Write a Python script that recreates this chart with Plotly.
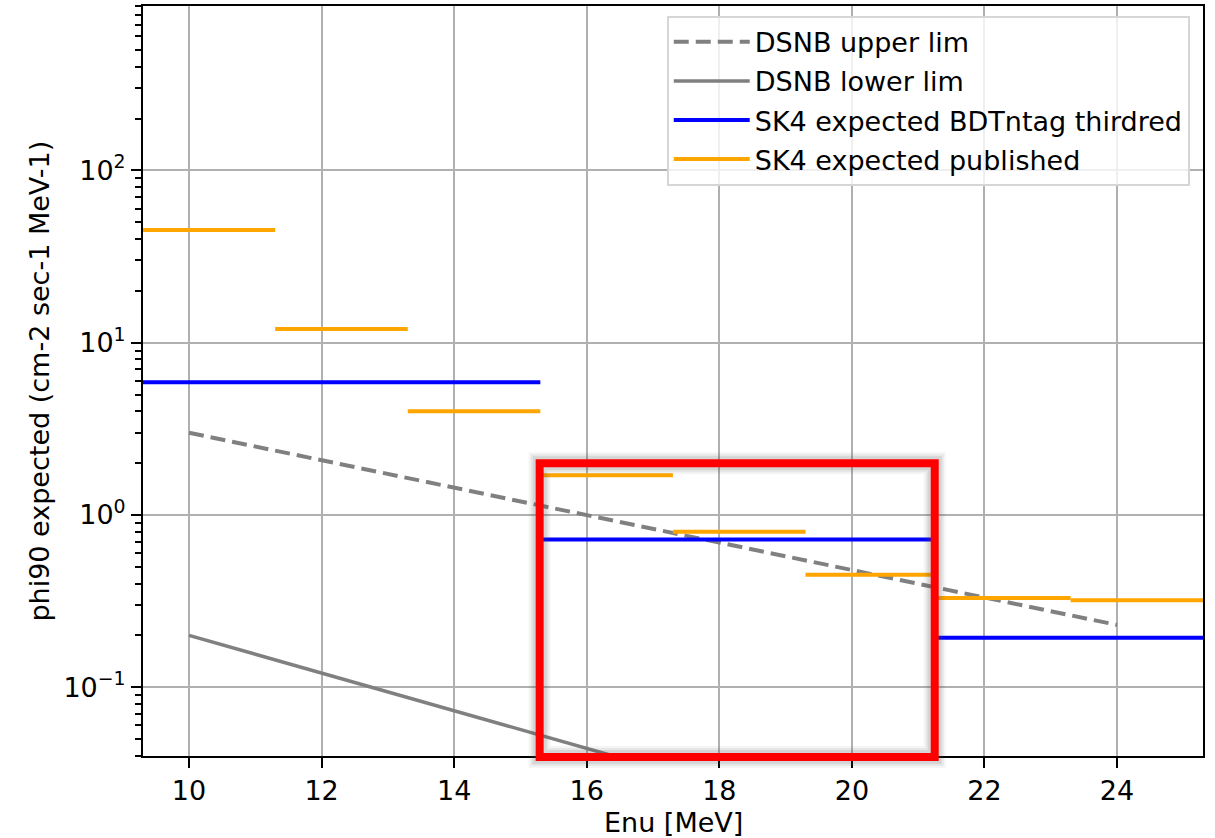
import plotly.graph_objects as go

# ---------------- data ----------------
pub_edges = [9.3, 11.3, 13.3, 15.3, 17.3, 19.3, 21.3, 23.3, 25.3]
pub_vals = [45.0, 12.0, 4.0, 1.7, 0.80, 0.45, 0.33, 0.32]

bdt_edges = [9.3, 15.3, 21.3, 25.3]
bdt_vals = [5.9, 0.72, 0.194]

upper_x = [10, 24]
upper_y = [3.0, 0.23]

lower_x = [10, 24]
lower_y = [0.2, 0.0059]

x_ticks = [10, 12, 14, 16, 18, 20, 22, 24]
y_ticks = [0.1, 1, 10, 100]
y_ticktext = ["10<sup>\u22121</sup>", "10<sup>0</sup>", "10<sup>1</sup>", "10<sup>2</sup>"]


def steps(edges, vals):
    xs, ys = [], []
    for i, v in enumerate(vals):
        xs += [edges[i], edges[i + 1], None]
        ys += [v, v, None]
    return xs, ys


FONT = "DejaVu Sans"
fig = go.Figure()

fig.add_trace(go.Scatter(x=upper_x, y=upper_y, mode="lines", name="DSNB upper lim",
                         line=dict(color="gray", width=4, dash="15px,7px"),
                         legendgroup="a"))
fig.add_trace(go.Scatter(x=lower_x, y=lower_y, mode="lines", name="DSNB lower lim",
                         line=dict(color="gray", width=3.5), legendgroup="b"))
bx, by = steps(bdt_edges, bdt_vals)
fig.add_trace(go.Scatter(x=bx, y=by, mode="lines", name="SK4 expected BDTntag thirdred",
                         line=dict(color="blue", width=4), legendgroup="c"))
px, py = steps(pub_edges, pub_vals)
fig.add_trace(go.Scatter(x=px, y=py, mode="lines", name="SK4 expected published",
                         line=dict(color="orange", width=4), legendgroup="d"))

minor_vals = [k * 10 ** d for d in range(-2, 3) for k in range(2, 10)]

fig.update_layout(
    width=1215, height=838,
    margin=dict(l=143, r=12, t=6, b=82, autoexpand=False),
    paper_bgcolor="white", plot_bgcolor="white",
    font=dict(family=FONT, color="black", size=27),
    showlegend=True,
    legend=dict(x=0.9875, y=0.987, xanchor="right", yanchor="top",
                bgcolor="rgba(255,255,255,0.8)", bordercolor="#d6d6d6", borderwidth=2,
                font=dict(family=FONT, size=27, color="black"),
                itemwidth=76,
                traceorder="grouped", tracegroupgap=1),
    xaxis=dict(range=[9.306, 25.297], tickvals=x_ticks, showgrid=True,
               gridcolor="#b0b0b0", gridwidth=2, ticks="outside", ticklen=10,
               tickwidth=2, tickcolor="black", showline=True, linecolor="black",
               linewidth=2, mirror=True, zeroline=False, automargin=False,
               tickfont=dict(size=27, family=FONT)),
    yaxis=dict(type="log", range=[-1.399, 2.954], tickvals=y_ticks, ticktext=y_ticktext,
               showgrid=True, gridcolor="#b0b0b0", gridwidth=2, ticks="outside",
               ticklen=10, tickwidth=2, tickcolor="black", showline=True,
               linecolor="black", linewidth=2, mirror=True, zeroline=False,
               automargin=False,
               tickfont=dict(size=27, family=FONT),
               minor=dict(tickvals=minor_vals, ticks="outside", ticklen=6,
                          tickwidth=1.5, tickcolor="black", showgrid=False)),
)

fig.add_annotation(text="Enu [MeV]", xref="paper", yref="paper", x=0.5, y=-0.088,
                   yanchor="middle", xanchor="center", showarrow=False,
                   font=dict(size=27, family=FONT))
fig.add_annotation(text="phi90 expected (cm-2 sec-1 MeV-1)", xref="paper", yref="paper",
                   x=-0.0985, y=0.5, textangle=-90, xanchor="center", yanchor="middle",
                   showarrow=False, font=dict(size=27, family=FONT))

# red highlight box with soft shadow
bx0, bx1, by0, by1 = 0.3742, 0.7469, -0.0013, 0.3903
for w, op in [(22, 0.06), (18, 0.08), (14, 0.12)]:
    fig.add_shape(type="rect", xref="paper", yref="paper", x0=bx0, x1=bx1, y0=by0, y1=by1,
                  line=dict(color="rgba(80,80,80,%.2f)" % op, width=w), layer="above")
fig.add_shape(type="rect", xref="paper", yref="paper", x0=bx0, x1=bx1, y0=by0, y1=by1,
              line=dict(color="red", width=8), layer="above")

fig.write_html("out.html", config={"displayModeBar": False},
               post_script="document.body.style.margin='0px';document.body.style.overflow='hidden';")
